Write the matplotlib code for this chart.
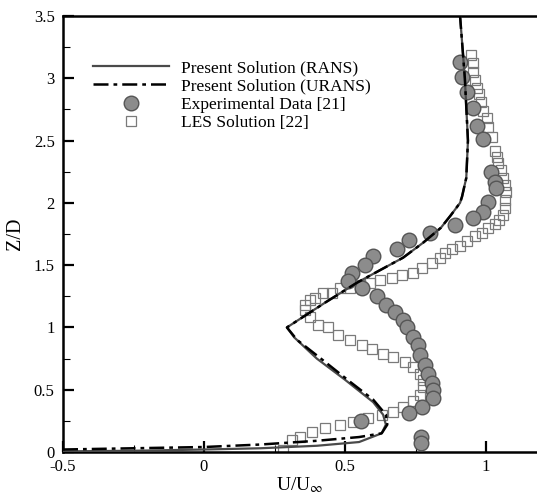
import numpy as np
import matplotlib
matplotlib.use("Agg")
import matplotlib.pyplot as plt

plt.rcParams['font.family'] = ['Liberation Serif', 'DejaVu Serif']
plt.rcParams['mathtext.fontset'] = 'stix'

# Present solution (RANS)
rans_u = [-0.5, -0.25, 0.0, 0.2, 0.40, 0.55, 0.63, 0.645, 0.635, 0.60, 0.50, 0.40, 0.32, 0.294,
          0.43, 0.543, 0.706, 0.777, 0.84, 0.875, 0.908, 0.915, 0.93, 0.936, 0.925, 0.908]
rans_z = [0.005, 0.01, 0.02, 0.03, 0.05, 0.08, 0.15, 0.22, 0.30, 0.40, 0.58, 0.75, 0.92, 1.0,
          1.2, 1.36, 1.56, 1.68, 1.8, 1.9, 2.0, 2.05, 2.2, 2.5, 3.0, 3.5]

# Present solution (URANS)
urans_u = [-0.5, -0.25, 0.0, 0.2, 0.40, 0.55, 0.63, 0.65, 0.645, 0.60, 0.52, 0.42, 0.33, 0.294,
           0.43, 0.543, 0.706, 0.777, 0.84, 0.875, 0.908, 0.915, 0.93, 0.936, 0.925, 0.908]
urans_z = [0.02, 0.03, 0.04, 0.06, 0.09, 0.12, 0.15, 0.22, 0.30, 0.42, 0.56, 0.74, 0.90, 1.0,
           1.2, 1.36, 1.56, 1.68, 1.8, 1.9, 2.0, 2.05, 2.2, 2.5, 3.0, 3.5]

# Experimental data [21]
exp_u = [0.908, 0.915, 0.933, 0.954, 0.968, 0.989, 1.018, 1.032, 1.035, 1.007, 0.989, 0.954,
         0.890, 0.801, 0.727, 0.684, 0.599, 0.571, 0.525, 0.511, 0.560, 0.613, 0.645, 0.677,
         0.706, 0.720, 0.741, 0.759, 0.766, 0.784, 0.794, 0.809, 0.812, 0.812, 0.773, 0.727,
         0.557, 0.770, 0.770]
exp_z = [3.13, 3.01, 2.89, 2.76, 2.62, 2.51, 2.25, 2.17, 2.12, 2.01, 1.93, 1.88,
         1.82, 1.76, 1.70, 1.63, 1.57, 1.50, 1.44, 1.37, 1.32, 1.25, 1.18, 1.12,
         1.06, 1.00, 0.92, 0.86, 0.78, 0.70, 0.63, 0.55, 0.50, 0.43, 0.36, 0.31,
         0.25, 0.12, 0.07]

# LES solution [22]
les_u = [0.947, 0.954, 0.954, 0.961, 0.968, 0.975, 0.982, 0.989, 1.004, 1.007, 1.021, 1.032,
         1.039, 1.043, 1.053, 1.060, 1.067, 1.071, 1.067, 1.067, 1.060, 1.046, 1.032, 1.007,
         0.986, 0.961, 0.933, 0.908, 0.879, 0.855, 0.837, 0.809, 0.773, 0.741, 0.702, 0.667,
         0.624, 0.589, 0.553, 0.518, 0.482, 0.454, 0.422, 0.394, 0.376, 0.358, 0.358, 0.376,
         0.404, 0.440, 0.475, 0.518, 0.560, 0.596, 0.635, 0.670, 0.713, 0.741, 0.766, 0.777,
         0.777, 0.766, 0.741, 0.706, 0.670, 0.631, 0.582, 0.528, 0.482, 0.429, 0.383, 0.340,
         0.312, 0.280]
les_z = [3.19, 3.12, 3.05, 2.99, 2.92, 2.87, 2.81, 2.74, 2.68, 2.61, 2.53, 2.42,
         2.37, 2.32, 2.26, 2.20, 2.14, 2.09, 2.02, 1.96, 1.90, 1.86, 1.83, 1.80,
         1.76, 1.73, 1.69, 1.65, 1.63, 1.60, 1.56, 1.52, 1.48, 1.44, 1.42, 1.40,
         1.38, 1.36, 1.34, 1.32, 1.32, 1.28, 1.28, 1.24, 1.22, 1.18, 1.14, 1.08,
         1.02, 1.00, 0.94, 0.90, 0.86, 0.83, 0.79, 0.76, 0.72, 0.68, 0.63, 0.58,
         0.52, 0.46, 0.41, 0.36, 0.32, 0.30, 0.27, 0.24, 0.22, 0.19, 0.16, 0.12,
         0.10, 0.02]

fig = plt.figure(figsize=(5.37, 5.01), dpi=100)
ax = fig.add_axes([63/537, 49/501, 1 - 63/537, 436/501])

ax.plot(rans_u, rans_z, color='#4a4a4a', lw=1.6, label='Present Solution (RANS)', zorder=4)
ax.plot(urans_u, urans_z, color='black', lw=1.8, ls=(0, (6, 2, 1.5, 2)),
        label='Present Solution (URANS)', zorder=5)
ax.plot(exp_u, exp_z, 'o', ms=10.5, mfc='#8c8c8c', mec='#555555', mew=1.0,
        label='Experimental Data [21]', zorder=3)
ax.plot(les_u, les_z, 's', ms=7, mfc='none', mec='#7a7a7a', mew=0.9,
        label='LES Solution [22]', zorder=2)

ax.set_xlim(-0.5, -0.5 + 474/282)
ax.set_ylim(0, 3.5)
ax.set_xticks([-0.5, 0, 0.5, 1])
ax.set_xticklabels(['-0.5', '0', '0.5', '1'])
ax.set_yticks([0, 0.5, 1, 1.5, 2, 2.5, 3, 3.5])
ax.set_yticklabels(['0', '0.5', '1', '1.5', '2', '2.5', '3', '3.5'])
ax.set_xticks(np.arange(-0.25, 1.2, 0.5), minor=True)
ax.set_yticks(np.arange(0.25, 3.5, 0.5), minor=True)
ax.tick_params(which='major', direction='in', length=8, width=1.6, labelsize=12, pad=6)
ax.tick_params(which='minor', direction='in', length=5, width=0.8)
ax.tick_params(axis='x', pad=5)

for s in ['left', 'bottom', 'top']:
    ax.spines[s].set_linewidth(1.8)
ax.spines['right'].set_visible(False)

ax.set_xlabel(r'U/U$_{\infty}$', fontsize=14, labelpad=0)
ax.set_ylabel('Z/D', fontsize=14.5, labelpad=6)

ax.legend(loc='upper left', bbox_to_anchor=(0.048, 0.915), frameon=False, fontsize=12.5,
          handlelength=4.4, handletextpad=0.7, labelspacing=0.12, borderaxespad=0)

fig.savefig('out.png', dpi=100)
